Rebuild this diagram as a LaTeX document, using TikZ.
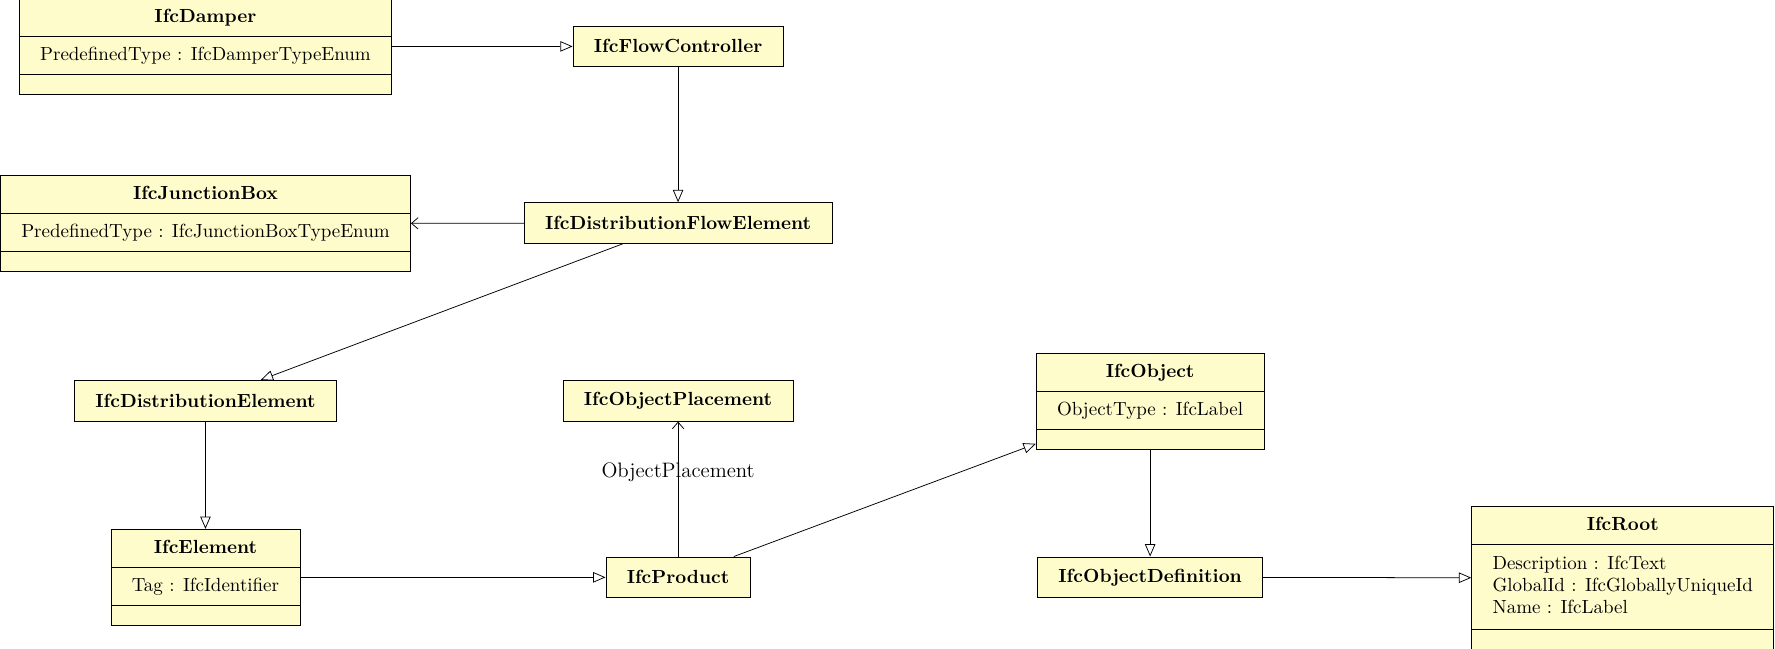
\documentclass[tikz,border=0pt]{standalone}
\usepackage{tikz}
\usetikzlibrary{positioning,arrows.meta,shapes.multipart}

\newcommand{\clsstrut}{\rule[-2.2pt]{0pt}{9.7pt}}
\newcommand{\noops}{\rule{0pt}{0.01pt}}

\begin{document}
\begin{tikzpicture}[
    x=0.596pt, y=-0.596pt,
    umlclass/.style={rectangle split, rectangle split parts=3, draw, fill=yellow!20, inner xsep=11pt, inner ysep=5pt,
        rectangle split part align={center,left,left}},
    umlbox/.style={draw, fill=yellow!20, inner xsep=11pt, minimum height=21.5pt, font=\bfseries},
    inherit/.style={-{Triangle[open, length=6.5pt, width=5.5pt]}},
    assoc/.style={-{Straight Barb[length=3.5pt, width=6pt]}},
    role/.style={font=\fontsize{11}{13}\selectfont},
]
\useasboundingbox (0,0) rectangle (1568,573);

\node[umlclass] (damper) at (181.5, 41) {\clsstrut\textbf{IfcDamper}
    \nodepart{two}\clsstrut PredefinedType : IfcDamperTypeEnum
    \nodepart{three}\noops};
\node[umlbox] (fc) at (599, 41) {IfcFlowController};
\node[umlclass] (junction) at (181.5, 197.5) {\clsstrut\textbf{IfcJunctionBox}
    \nodepart{two}\clsstrut PredefinedType : IfcJunctionBoxTypeEnum
    \nodepart{three}\noops};
\node[umlbox] (dfe) at (599, 197) {IfcDistributionFlowElement};
\node[umlbox] (de) at (181.5, 354) {IfcDistributionElement};
\node[umlbox] (placement) at (599, 354) {IfcObjectPlacement};
\node[umlclass] (object) at (1016, 354.5) {\clsstrut\textbf{IfcObject}
    \nodepart{two}\clsstrut ObjectType : IfcLabel
    \nodepart{three}\noops};
\node[umlclass] (element) at (181.5, 510) {\clsstrut\textbf{IfcElement}
    \nodepart{two}\clsstrut Tag : IfcIdentifier
    \nodepart{three}\noops};
\node[umlbox] (product) at (599, 510) {IfcProduct};
\node[umlbox] (objdef) at (1016, 510) {IfcObjectDefinition};
\node[umlclass] (root) at (1433.5, 510.5) {\clsstrut\textbf{IfcRoot}
    \nodepart{two}\renewcommand{\arraystretch}{0.96}\begin{tabular}{@{}l@{}}
        Description : IfcText\\ GlobalId : IfcGloballyUniqueId\\ Name : IfcLabel
    \end{tabular}
    \nodepart{three}\noops};

\draw[inherit] (damper) -- (fc);
\draw[inherit] (fc) -- (dfe);
\draw[assoc] (dfe) -- (junction);
\draw[inherit] (dfe) -- (de);
\draw[inherit] (de) -- (element);
\draw[inherit] (element) -- (product);
\draw[assoc] (product) -- node[role, pos=0.625] {ObjectPlacement} (placement);
\draw[inherit] (product) -- (object);
\draw[inherit] (object) -- (objdef);
\draw[inherit] (objdef) -- (root);
\end{tikzpicture}
\end{document}
